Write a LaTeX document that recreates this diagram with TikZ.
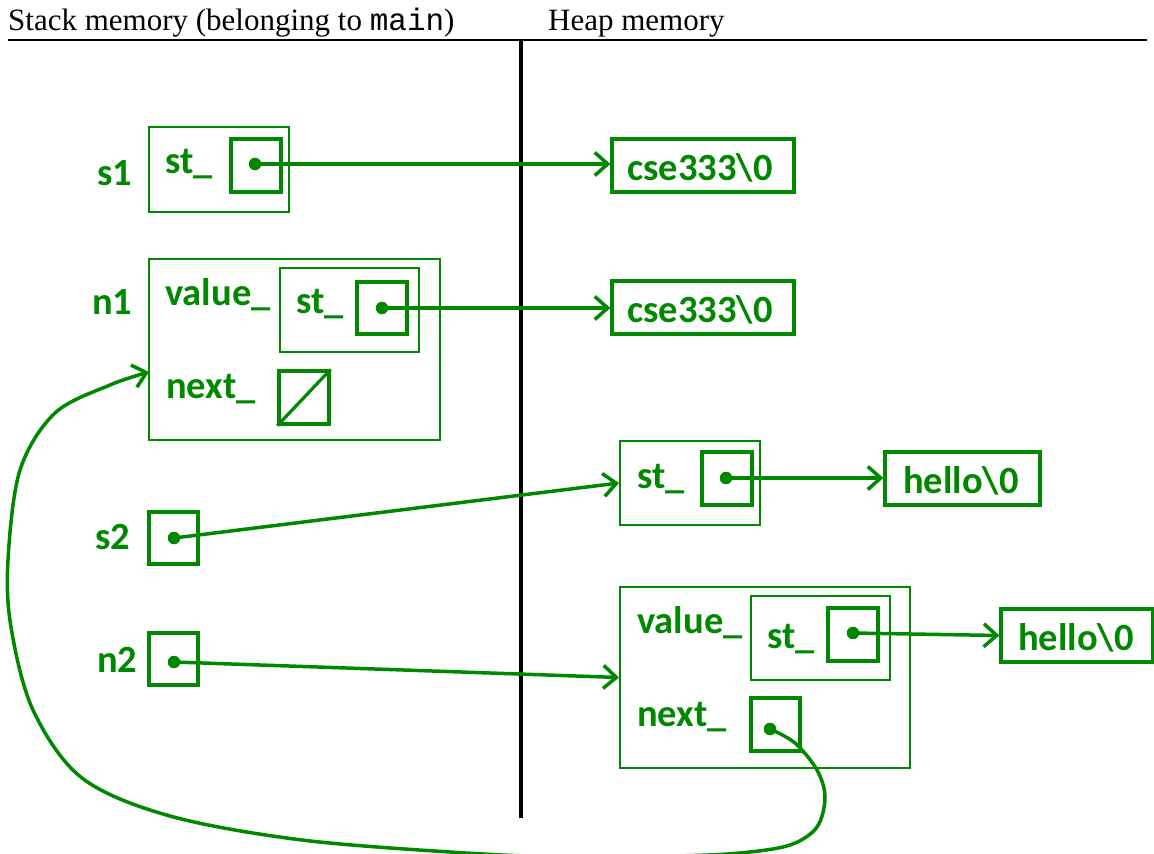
\documentclass[tikz,border=0pt]{standalone}
\usepackage{fontspec}
\setmainfont{Carlito}
\newfontfamily\hdrfont{Liberation Serif}
\newfontfamily\hdrmono{Liberation Mono}
\usetikzlibrary{arrows.meta}
\definecolor{mg}{RGB}{0,136,0}
\newcommand\membox[6]{\node[#6, minimum width={(#4-#2)*1pt}, minimum height={(#5-#3)*1pt}] (#1) at ({(#2+#4)/2},{(#3+#5)/2}) {};}
\begin{document}
\begin{tikzpicture}[x=1pt,y=-1pt,
 lbl/.style={anchor=base west, inner sep=0pt, text=mg, font=\fontsize{38.5}{40}\selectfont\bfseries},
 hdr/.style={anchor=base west, inner sep=0pt, font=\hdrfont\fontsize{31}{34}\selectfont},
 obox/.style={draw=mg, line width=2pt, inner sep=0pt, rectangle},
 pbox/.style={draw=mg, line width=3.2pt, inner sep=0pt, rectangle},
 dotn/.style={circle, fill=mg, inner sep=0pt, minimum size=12.5pt},
 ptr/.style={draw=mg, line width=3.5pt, -{Straight Barb[length=13pt,width=23pt]}},
]
\useasboundingbox (0,0) rectangle (1154,854);
\clip (0,0) rectangle (1154,854);

% header
\node[hdr] (hs) at (8,30) {Stack memory (belonging to {\hdrmono main})};
\node[hdr] (hh) at (548,30) {Heap memory};
\coordinate (hl1) at (8,40);
\coordinate (hl2) at (1147,40);
\draw[line width=1.5pt] (hl1) -- (hl2);
\coordinate (v1) at (521,40);
\coordinate (v2) at (521,818);
\draw[line width=3.5pt] (v1) -- (v2);

% s1
\node[lbl] (ls1) at (97,185) {s1};
\membox{s1}{149}{127}{289}{212}{obox}
\node[lbl] (s1st) at (165,173) {st\_};
\membox{s1p}{231}{139}{281}{192}{pbox}
\node[dotn] (d1) at (255,164) {};
\membox{c1}{612}{139}{794}{192}{pbox}
\node[lbl] (c1t) at (627,180) {cse333\textbackslash 0};
\draw[ptr] (d1.center) -- (d1.center -| c1.west);

% n1
\node[lbl] (ln1) at (92,314) {n1};
\membox{n1}{149}{259}{440}{440}{obox}
\node[lbl] (n1v) at (165,305) {value\_};
\membox{n1s}{280}{268}{419}{352}{obox}
\node[lbl] (n1st) at (296,313) {st\_};
\membox{n1p}{357}{282}{407}{334}{pbox}
\node[dotn] (d2) at (382,308) {};
\membox{c2}{612}{281}{794}{334}{pbox}
\node[lbl] (c2t) at (627,322) {cse333\textbackslash 0};
\draw[ptr] (d2.center) -- (d2.center -| c2.west);
\node[lbl] (n1n) at (166,398) {next\_};
\membox{n1null}{279}{371}{329}{424}{pbox}
\draw[mg, line width=3.2pt] (n1null.south west) -- (n1null.north east);
\coordinate (n1in) at (149,372);

% s2
\node[lbl] (ls2) at (95,549) {s2};
\membox{s2}{149}{512}{198}{564}{pbox}
\node[dotn] (d3) at (174,538) {};
\membox{hs}{620}{441}{760}{525}{obox}
\node[lbl] (hst) at (637,488) {st\_};
\membox{hsp}{702}{452}{752}{505}{pbox}
\node[dotn] (d4) at (726,478) {};
\membox{h1}{885}{452}{1040}{505}{pbox}
\node[lbl] (h1t) at (903,493) {hello\textbackslash 0};
\draw[ptr] (d3.center) -- (hs.west);
\draw[ptr] (d4.center) -- (d4.center -| h1.west);

% n2
\node[lbl] (ln2) at (97,672) {n2};
\membox{n2}{149}{633}{198}{685}{pbox}
\node[dotn] (d5) at (174,662) {};
\membox{hn}{620}{587}{910}{768}{obox}
\node[lbl] (hnv) at (637,633) {value\_};
\membox{hns}{751}{596}{890}{680}{obox}
\node[lbl] (hnst) at (767,648) {st\_};
\membox{hnp}{828}{608}{878}{661}{pbox}
\node[dotn] (d6) at (853,633) {};
\membox{h2}{1001}{609}{1153}{662}{pbox}
\node[lbl] (h2t) at (1018,650) {hello\textbackslash 0};
\node[lbl] (hnn) at (637,726) {next\_};
\membox{hnx}{751}{698}{800}{751}{pbox}
\node[dotn] (d7) at (770,729) {};
\draw[ptr] (d5.center) -- (hn.west);
\draw[ptr] (d6.center) -- (h2.west);

% back link
\draw[ptr] plot[smooth, tension=0.55] coordinates {(d7.center) (795,743) (817,770) (825,797) (817,827) (790,845) (740,853) (675,856) (570,857) (466,853) (302,840) (170,816) (82,778) (33,710) (11,627) (8,560) (20,470) (55,413) (110,385) (n1in)};
\end{tikzpicture}
\end{document}
